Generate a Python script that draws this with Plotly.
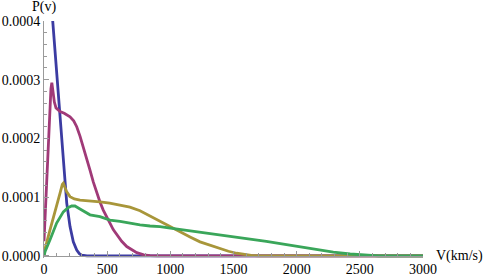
import plotly.graph_objects as go

# ---- data ----
blue_v = [50, 69, 100, 127, 153, 180, 206, 232, 259, 280, 298, 320, 340, 3000]
blue_p = [0.000453, 0.0004, 0.000313, 0.000226, 0.00015, 0.00009, 0.00005,
          0.000024, 0.00001, 0.000004, 0.0000015, 0.0000003, 0.0, 0.0]

magenta_v = [0, 8, 20, 34, 47, 55, 62, 72, 82, 95, 110, 127, 160, 206, 235, 259,
             285, 311, 338, 364, 390, 417, 443, 469, 495, 522, 548, 575, 615, 655,
             695, 734, 790, 839, 900, 3000]
magenta_p = [0.000025, 0.00006, 0.00013, 0.0002, 0.000255, 0.000285, 0.000295,
             0.00028, 0.000262, 0.000252, 0.000249, 0.000246, 0.000243, 0.000237,
             0.00023, 0.00022, 0.000204, 0.000186, 0.000166, 0.000146, 0.000126,
             0.000107, 0.000092, 0.000078, 0.000066, 0.000056, 0.000045, 0.000036,
             0.000025, 0.000016, 0.00001, 0.0000057, 0.000002, 0.0000005, 0.0, 0.0]

olive_v = [0, 8, 47, 87, 127, 145, 153, 165, 180, 206, 240, 285, 350, 443, 520,
           602, 680, 760, 840, 918, 1000, 1077, 1160, 1235, 1315, 1393, 1460,
           1525, 1580, 1640, 1700, 3000]
olive_p = [0.0, 0.000012, 0.000044, 0.000078, 0.000107, 0.000122, 0.000124,
           0.000117, 0.000109, 0.000101, 0.000097, 0.000095, 0.000094, 0.000092,
           0.00009, 0.000087, 0.000083, 0.000077, 0.000068, 0.000058, 0.000049,
           0.000041, 0.000032, 0.000024, 0.000018, 0.000013, 0.000008, 0.0000046,
           0.0000025, 0.000001, 0.0, 0.0]

green_v = [0, 8, 47, 100, 153, 190, 219, 245, 285, 320, 364, 443, 522, 602, 681,
           760, 839, 918, 1000, 1103, 1235, 1367, 1525, 1631, 1760, 1895, 2030,
           2159, 2290, 2423, 2555, 2650, 3000]
green_p = [0.0, 0.000007, 0.000027, 0.000056, 0.000075, 0.000082, 0.000085,
           0.000085, 0.00008, 0.000075, 0.00007, 0.000067, 0.000061, 0.000059,
           0.0000555, 0.000053, 0.000051, 0.00005, 0.0000475, 0.0000445, 0.00004,
           0.0000365, 0.000032, 0.000029, 0.000025, 0.00002, 0.000015, 0.0000105,
           0.0000065, 0.0000033, 0.000001, 0.0, 0.0]

x_ticks = [0, 500, 1000, 1500, 2000, 2500, 3000]
y_ticks = [0.0, 0.0001, 0.0002, 0.0003, 0.0004]

series = [
    (blue_v, blue_p, "#3c3ca2"),
    (magenta_v, magenta_p, "#a03a78"),
    (olive_v, olive_p, "#a8963a"),
    (green_v, green_p, "#3aa65a"),
]

FONT = "Liberation Serif"
AX = "#9a9a9a"
ypad = 0.0000035
ymax = 0.0004

fig = go.Figure()
for v, p, c in series:
    fig.add_trace(go.Scatter(x=v, y=p, mode="lines",
                             line=dict(color=c, width=2.8), showlegend=False,
                             hoverinfo="skip"))

fig.update_layout(
    width=485, height=278,
    margin=dict(l=44, r=62, t=21, b=20, autoexpand=False),
    paper_bgcolor="white", plot_bgcolor="white",
    font=dict(family=FONT, size=14, color="black"),
    xaxis=dict(range=[0, 3000], tickvals=x_ticks, tickformat="d",
               automargin=False,
               showgrid=False, zeroline=False, showline=True, linecolor=AX,
               linewidth=1, ticks="inside", ticklen=5, tickcolor=AX,
               anchor="free", position=ypad / (ymax + ypad),
               tickfont=dict(family=FONT, size=14),
               minor=dict(dtick=100, ticks="inside", ticklen=3, tickcolor=AX,
                          showgrid=False)),
    yaxis=dict(range=[-ypad, ymax], tickvals=y_ticks, tickformat=".4f",
               automargin=False,
               showgrid=False, zeroline=False, showline=True, linecolor=AX,
               linewidth=1, ticks="inside", ticklen=5, tickcolor=AX,
               tickfont=dict(family=FONT, size=14),
               minor=dict(dtick=0.00002, ticks="inside", ticklen=3, tickcolor=AX,
                          showgrid=False)),
    annotations=[
        dict(text="P(v)", xref="paper", yref="paper", x=0, y=1,
             xanchor="center", yanchor="bottom", yshift=4, showarrow=False,
             font=dict(family=FONT, size=14)),
        dict(text="V(km/s)", xref="paper", yref="y", x=1, y=0,
             xanchor="left", yanchor="middle", xshift=11, showarrow=False,
             font=dict(family=FONT, size=14)),
    ],
)

fig.write_html(
    "out.html",
    config={"displayModeBar": False},
    post_script="document.body.style.margin='0';document.body.style.overflow='hidden';",
)
